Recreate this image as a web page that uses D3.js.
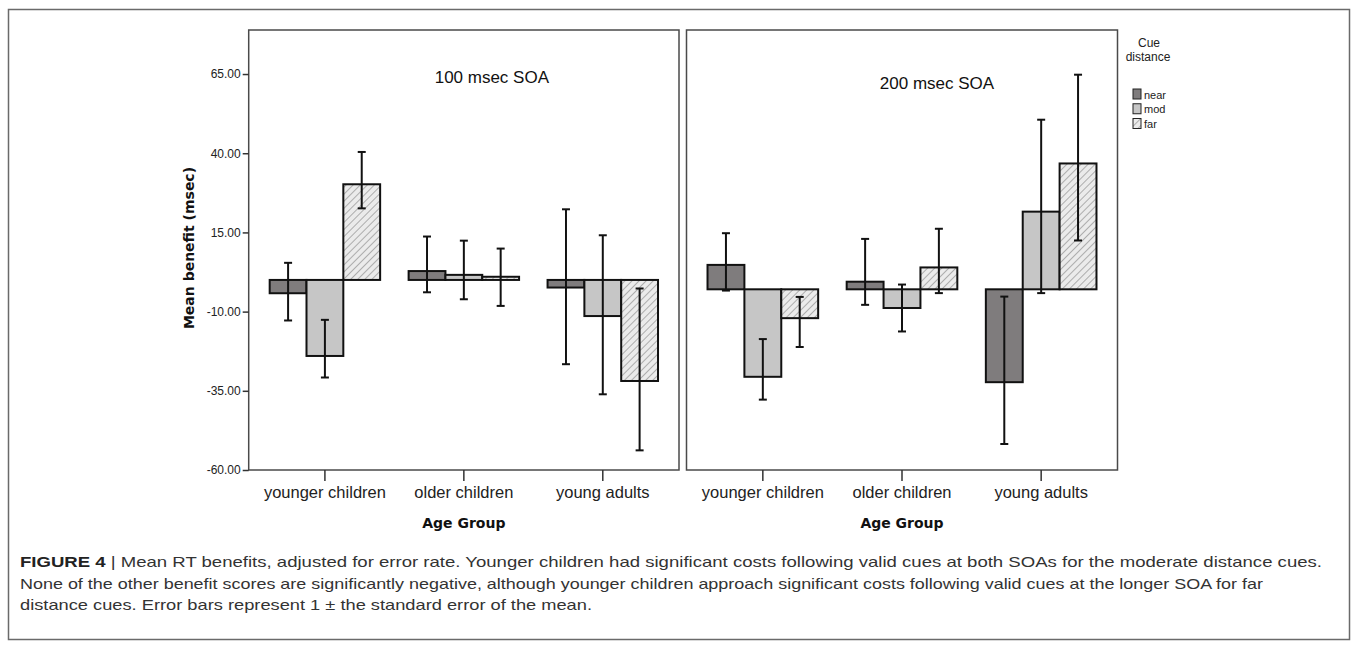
<!DOCTYPE html>
<html>
<head>
<meta charset="utf-8">
<script src="https://cdn.jsdelivr.net/npm/d3@7"></script>
<style>
  body { margin: 0; background: #fff; }
  svg { display: block; }
</style>
</head>
<body>
<div id="chart"></div>
<script>
// categories
const ageGroups = ['younger children', 'older children', 'young adults'];
const cueDistances = ['near', 'mod', 'far'];
const yTicks = [-60, -35, -10, 15, 40, 65];

// mean benefit (msec), rows = cue distance (near, mod, far), cols = age group
const mean100 = [[-4.2, 2.8, -2.4], [-24.0, 1.6, -11.4], [30.2, 1.0, -31.9]];
const low100 = [[-12.8, -3.9, -26.6], [-30.8, -6.1, -36.1], [22.6, -8.2, -53.8]];
const high100 = [[5.4, 13.7, 22.3], [-12.6, 12.4, 14.1], [40.4, 9.9, -2.7]];

const mean200 = [[7.7, 2.4, -29.3], [-27.6, -5.9, 24.5], [-9.1, 6.9, 39.7]];
const low200 = [[-0.4, -4.9, -48.8], [-34.8, -13.3, -1.2], [-18.2, -1.2, 15.4]];
const high200 = [[17.7, 15.9, -2.3], [-15.7, 1.5, 53.5], [-2.4, 19.1, 67.7]];

const W = 1358, H = 650;
const plotTop = 30, plotBottom = 470;

const fills = { near: '#7f7c7d', mod: '#c6c6c6', far: 'url(#hatch)' };

const svg = d3.select('#chart').append('svg')
  .attr('width', W)
  .attr('height', H)
  .style('font-family', '"Liberation Sans", Arial, sans-serif');

const defs = svg.append('defs');
const hatch = defs.append('pattern')
  .attr('id', 'hatch')
  .attr('patternUnits', 'userSpaceOnUse')
  .attr('width', 5)
  .attr('height', 5)
  .attr('patternTransform', 'rotate(45)');
hatch.append('rect').attr('width', 5).attr('height', 5).attr('fill', '#ebebeb');
hatch.append('line')
  .attr('x1', 0).attr('y1', 0).attr('x2', 0).attr('y2', 5)
  .attr('stroke', '#7a7a7a')
  .attr('stroke-width', 1.1);

// outer figure frame
svg.append('rect')
  .attr('x', 8.5).attr('y', 9.5)
  .attr('width', 1341).attr('height', 630)
  .attr('fill', 'none')
  .attr('stroke', '#6a6a6a')
  .attr('stroke-width', 1.5);

const panels = [
  { title: '100 msec SOA', x0: 248.7, x1: 679, domain: [-60, 78.9], mean: mean100, low: low100, high: high100, titleDx: 28, titleY: 83, yAxis: true },
  { title: '200 msec SOA', x0: 686.5, x1: 1117.5, domain: [-57, 81.8], mean: mean200, low: low200, high: high200, titleDx: 35, titleY: 89, yAxis: false }
];

panels.forEach(p => {
  const g = svg.append('g');

  const x = d3.scaleBand()
    .domain(ageGroups)
    .range([p.x0, p.x1])
    .paddingInner(0.205)
    .paddingOuter(0.151);

  const xCue = d3.scaleBand()
    .domain(cueDistances)
    .range([0, x.bandwidth()]);

  const y = d3.scaleLinear()
    .domain(p.domain)
    .range([plotBottom, plotTop]);

  // panel frame
  g.append('rect')
    .attr('x', p.x0).attr('y', plotTop)
    .attr('width', p.x1 - p.x0).attr('height', plotBottom - plotTop)
    .attr('fill', 'none')
    .attr('stroke', '#4a4a4a')
    .attr('stroke-width', 1.5);

  const rows = [];
  cueDistances.forEach((cue, i) => {
    ageGroups.forEach((age, j) => {
      rows.push({ cue, age, value: p.mean[i][j], lo: p.low[i][j], hi: p.high[i][j] });
    });
  });

  g.selectAll('rect.bar')
    .data(rows)
    .join('rect')
    .attr('class', 'bar')
    .attr('x', d => x(d.age) + xCue(d.cue))
    .attr('y', d => Math.min(y(d.value), y(0)))
    .attr('width', xCue.bandwidth())
    .attr('height', d => Math.abs(y(d.value) - y(0)))
    .attr('fill', d => fills[d.cue])
    .attr('stroke', '#111')
    .attr('stroke-width', 2);

  const err = g.selectAll('g.err')
    .data(rows)
    .join('g')
    .attr('class', 'err')
    .attr('transform', d => `translate(${x(d.age) + xCue(d.cue) + xCue.bandwidth() / 2},0)`)
    .attr('stroke', '#111')
    .attr('stroke-width', 2);

  err.append('line')
    .attr('y1', d => y(d.lo))
    .attr('y2', d => y(d.hi));
  err.append('line')
    .attr('x1', -4).attr('x2', 4)
    .attr('y1', d => y(d.lo)).attr('y2', d => y(d.lo));
  err.append('line')
    .attr('x1', -4).attr('x2', 4)
    .attr('y1', d => y(d.hi)).attr('y2', d => y(d.hi));

  // x axis
  const xAxis = g.append('g')
    .attr('transform', `translate(0,${plotBottom})`)
    .call(d3.axisBottom(x).tickSize(11).tickPadding(5));
  xAxis.select('.domain').remove();
  xAxis.selectAll('.tick line').attr('stroke', '#333').attr('stroke-width', 1.5);
  xAxis.selectAll('text')
    .attr('fill', '#222')
    .style('font-size', '16.5px')
    .style('font-family', '"Liberation Sans", Arial, sans-serif');

  g.append('text')
    .attr('x', x('older children') + x.bandwidth() / 2)
    .attr('y', 528)
    .attr('text-anchor', 'middle')
    .style('font-family', '"DejaVu Sans", Verdana, sans-serif')
    .style('font-weight', 'bold')
    .style('font-size', '14px')
    .attr('fill', '#111')
    .text('Age Group');

  g.append('text')
    .attr('x', (p.x0 + p.x1) / 2 + p.titleDx)
    .attr('y', p.titleY)
    .attr('text-anchor', 'middle')
    .style('font-size', '17px')
    .attr('fill', '#111')
    .text(p.title);

  if (p.yAxis) {
    const yAxis = g.append('g')
      .attr('transform', `translate(${p.x0},0)`)
      .call(d3.axisLeft(y).tickValues(yTicks).tickSize(6).tickPadding(2).tickFormat(d => d.toFixed(2)));
    yAxis.select('.domain').remove();
    yAxis.selectAll('.tick line').attr('stroke', '#333').attr('stroke-width', 1.5);
    yAxis.selectAll('text')
      .attr('fill', '#222')
      .style('font-size', '12px')
      .style('font-family', '"Liberation Sans", Arial, sans-serif');

    g.append('text')
      .attr('transform', `translate(194,${(plotTop + plotBottom) / 2 - 2}) rotate(-90)`)
      .attr('text-anchor', 'middle')
      .style('font-family', '"DejaVu Sans", Verdana, sans-serif')
      .style('font-weight', 'bold')
      .style('font-size', '14px')
      .attr('fill', '#111')
      .text('Mean benefit (msec)');
  }
});

// legend
const legend = svg.append('g');
legend.append('text')
  .attr('x', 1149).attr('y', 47)
  .attr('text-anchor', 'middle')
  .style('font-size', '12px')
  .attr('fill', '#222')
  .text('Cue');
legend.append('text')
  .attr('x', 1148).attr('y', 61)
  .attr('text-anchor', 'middle')
  .style('font-size', '12px')
  .attr('fill', '#222')
  .text('distance');

const legendY = d3.scalePoint().domain(cueDistances).range([89, 118.5]);
const item = legend.selectAll('g.item')
  .data(cueDistances)
  .join('g')
  .attr('class', 'item')
  .attr('transform', d => `translate(1133,${legendY(d)})`);
item.append('rect')
  .attr('width', 8).attr('height', 10)
  .attr('fill', d => fills[d])
  .attr('stroke', '#222')
  .attr('stroke-width', 1);
item.append('text')
  .attr('x', 11).attr('y', 9.5)
  .style('font-size', '11px')
  .attr('fill', '#222')
  .text(d => d);

// caption
const captionLines = [
  'Mean RT benefits, adjusted for error rate. Younger children had significant costs following valid cues at both SOAs for the moderate distance cues.',
  'None of the other benefit scores are significantly negative, although younger children approach significant costs following valid cues at the longer SOA for far',
  'distance cues. Error bars represent 1 \u00b1 the standard error of the mean.'
];
const captionWidths = [1302, 1243, 572];
const caption = svg.append('g')
  .style('font-size', '15px')
  .attr('fill', '#333');
captionLines.forEach((line, i) => {
  const t = caption.append('text')
    .attr('x', 20)
    .attr('y', 567 + i * 21.5)
    .attr('textLength', captionWidths[i])
    .attr('lengthAdjust', 'spacingAndGlyphs');
  if (i === 0) {
    t.append('tspan').style('font-weight', 'bold').attr('fill', '#222').text('FIGURE 4');
    t.append('tspan').text(' | ' + line);
  } else {
    t.text(line);
  }
});
</script>
</body>
</html>
